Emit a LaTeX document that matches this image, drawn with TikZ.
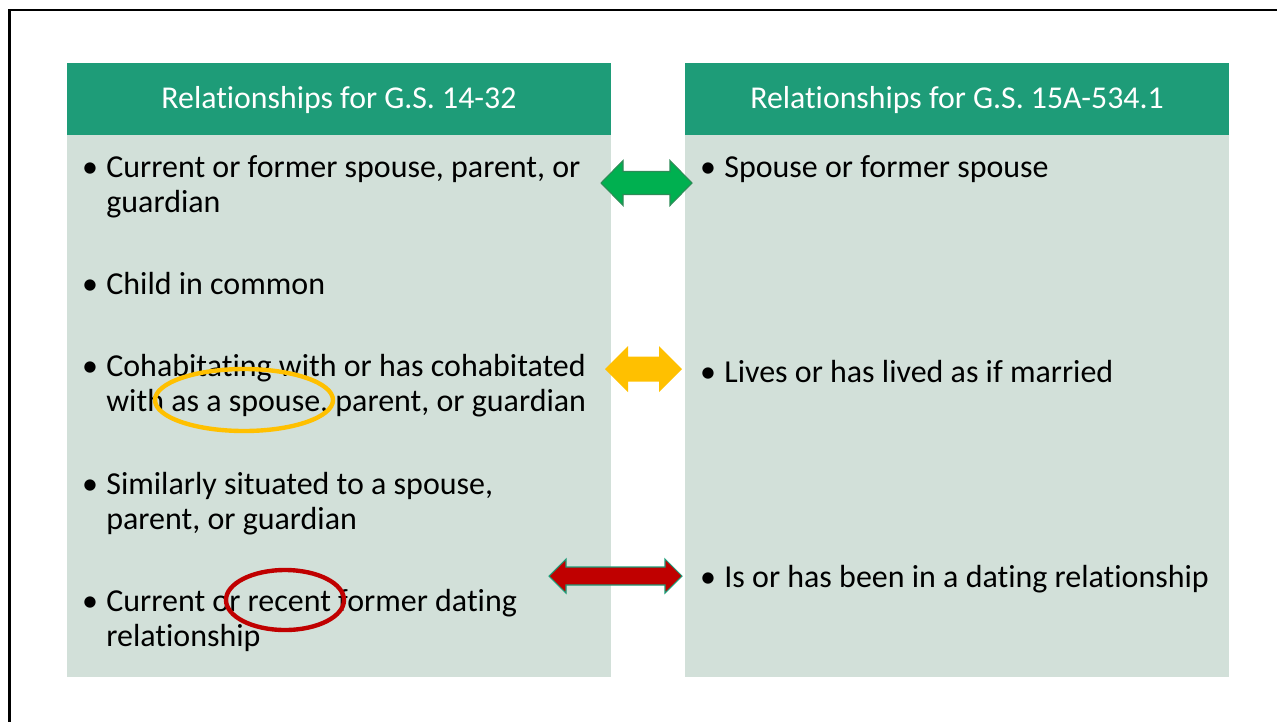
\documentclass[tikz,border=0pt]{standalone}
\usepackage{fontspec}
\setmainfont{Carlito}[RawFeature=-liga]
\usepackage{tikz}
\usetikzlibrary{positioning}

\definecolor{headgreen}{HTML}{1E9C78}
\definecolor{bodygreen}{HTML}{D2E0D9}
\definecolor{arrgreen}{HTML}{00B050}
\definecolor{arrgreenline}{HTML}{2E8B57}
\definecolor{arryellow}{HTML}{FFC000}
\definecolor{arrred}{HTML}{C00000}

\begin{document}
\begin{tikzpicture}[x=0.02cm, y=-0.02cm,
  head/.style={fill=headgreen, text=white, inner sep=0, minimum width=10.88cm,
    minimum height=1.44cm, font=\fontsize{18.1}{21}\selectfont},
  txt/.style={anchor=base west, inner sep=0, font=\fontsize{18.2}{21}\selectfont},
  bul/.style={anchor=base, inner sep=0, font=\fontsize{18.2}{21}\selectfont}]

\useasboundingbox (0,0) rectangle (1277,721);

% frame
\draw [line width=1.7pt] (9.5,730) -- (9.5,10) -- (1290,10);

% panels
\fill [bodygreen] (67,135) rectangle (611,677);
\fill [bodygreen] (685,135) rectangle (1229,677);
\node [head] (lhead) at (339,99) {};
\node [head] (rhead) at (957,99) {};
\node [anchor=base, inner sep=0, text=white, font=\fontsize{18.1}{21}\selectfont]
  (ltitle) at (339,108) {Relationships for G.S. 14-32};
\node [anchor=base, inner sep=0, text=white, font=\fontsize{18.1}{21}\selectfont]
  (rtitle) at (957,108) {Relationships for G.S. 15A-534.1};

% left column
\node [bul] (lb1) at (90,177) {•};
\node [txt] (l1a) at (106,177) {Current or former spouse, parent, or};
\node [txt] (l1b) at (106,212) {guardian};
\node [bul] (lb2) at (90,294) {•};
\node [txt] (l2a) at (106,294) {Child in common};
\node [bul] (lb3) at (90,376) {•};
\node [txt] (l3a) at (106,376) {Cohabitating with or has cohabitated};
\node [txt] (l3b) at (106,411) {with as a spouse, parent, or guardian};
\node [bul] (lb4) at (90,494) {•};
\node [txt] (l4a) at (106,494) {Similarly situated to a spouse,};
\node [txt] (l4b) at (106,529) {parent, or guardian};
\node [bul] (lb5) at (90,611) {•};
\node [txt] (l5a) at (106,611) {Current or recent former dating};
\node [txt] (l5b) at (106,646) {relationship};

% right column
\node [bul] (rb1) at (708,177) {•};
\node [txt] (r1a) at (724,177) {Spouse or former spouse};
\node [bul] (rb2) at (708,382) {•};
\node [txt] (r2a) at (724,382) {Lives or has lived as if married};
\node [bul] (rb3) at (708,587) {•};
\node [txt] (r3a) at (724,587) {Is or has been in a dating relationship};

% double arrows
\filldraw [fill=arrgreen, draw=arrgreenline, line width=0.6pt]
  (601,183) -- (623,160.5) -- (623,171.5) -- (670,171.5) -- (670,160.5) -- (692,183)
  -- (670,205.5) -- (670,194.5) -- (623,194.5) -- (623,205.5) -- cycle;
\fill [arryellow]
  (605,369) -- (628,346) -- (628,356.5) -- (659,356.5) -- (659,346) -- (682,369)
  -- (659,392) -- (659,381.5) -- (628,381.5) -- (628,392) -- cycle;
\filldraw [fill=arrred, draw=headgreen, line width=0.6pt]
  (549,576) -- (566,559) -- (566,567) -- (665,567) -- (665,559) -- (682,576)
  -- (665,593) -- (665,585) -- (566,585) -- (566,593) -- cycle;

% circled words
\draw [arryellow, line width=2.5pt] (244,400) ellipse [x radius=89, y radius=31];
\draw [arrred, line width=2.5pt] (285,600) ellipse [x radius=59, y radius=30];

\end{tikzpicture}
\end{document}
